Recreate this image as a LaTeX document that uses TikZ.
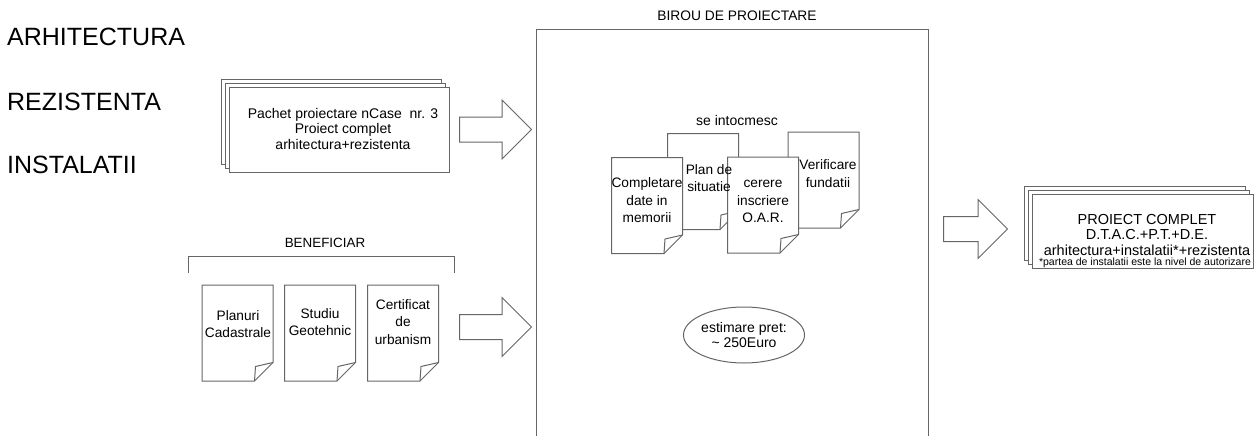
\documentclass[tikz,border=0pt]{standalone}
\usepackage{fontspec}
\setmainfont{Liberation Sans}
\usetikzlibrary{shapes.arrows, shapes.geometric, shadows, positioning}

\begin{document}
\begin{tikzpicture}[x=1pt, y=-1pt,
    line/.style={draw=black!60, line width=1pt},
    txt/.style={align=center, inner sep=0pt, font=\fontsize{14}{15.5}\selectfont},
    doctxt/.style={align=center, inner sep=0pt, font=\fontsize{13.7}{17.5}\selectfont},
    stack/.style={line, fill=white, minimum width=220pt,
        general shadow={shadow xshift=-8pt, shadow yshift=8pt, line, fill=white},
        general shadow={shadow xshift=-4pt, shadow yshift=4pt, line, fill=white}},
    blockarrow/.style={single arrow, line, fill=white, minimum height=72pt, inner xsep=0pt,
        inner ysep=12pt, single arrow head extend=17pt, anchor=tail},
    doc/.style={fill=white, minimum width=72pt, minimum height=97pt, inner sep=0pt,
        path picture={
            \draw[line] ([shift={(.5pt,-.5pt)}]path picture bounding box.north west)
                -- ([shift={(-.5pt,-.5pt)}]path picture bounding box.north east)
                -- ([shift={(-.5pt,19pt)}]path picture bounding box.south east)
                -- ([shift={(-19pt,.5pt)}]path picture bounding box.south east)
                -- ([shift={(.5pt,.5pt)}]path picture bounding box.south west) -- cycle;
            \draw[line] ([shift={(-19pt,.5pt)}]path picture bounding box.south east)
                -- ([shift={(-18pt,15pt)}]path picture bounding box.south east)
                -- ([shift={(-.5pt,19pt)}]path picture bounding box.south east);
        }}]

    \useasboundingbox (0,0) rectangle (1255,436);
    \clip (0,0) rectangle (1255,436);

    % left labels
    \node[anchor=base west, inner sep=0pt, font=\fontsize{25}{30}\selectfont] (L1) at (7,46) {ARHITECTURA};
    \node[anchor=base west, inner sep=0pt, font=\fontsize{25}{30}\selectfont] (L2) at (7,110) {REZISTENTA};
    \node[anchor=base west, inner sep=0pt, font=\fontsize{25}{30}\selectfont] (L3) at (7,173) {INSTALATII};

    % package and beneficiary
    \node[stack, minimum height=85pt, txt] (P) at (339,129.5) {};
    \node[txt] (PT) at (343,128.5) {Pachet proiectare nCase\ \ nr. 3\\Proiect complet\\arhitectura+rezistenta};

    \node[txt, font=\fontsize{13.4}{16}\selectfont] (B) at (325,243) {BENEFICIAR};
    \draw[line] (188,273) |- (454,256) -- (454,273);

    \node[doc] (D1) at (237.5,333) {};
    \node[doc] (D2) at (320,333) {};
    \node[doc] (D3) at (403,333) {};
    \node[doctxt] (T1) at (238,324) {Planuri\\Cadastrale};
    \node[doctxt] (T2) at (320,322) {Studiu\\Geotehnic};
    \node[doctxt] (T3) at (403,322) {Certificat\\de\\urbanism};

    \node[blockarrow] (A1) at (459,129.5) {};
    \node[blockarrow] (A2) at (459,327) {};

    % design office
    \node[line, minimum width=392pt, minimum height=430pt, anchor=north] (O) at (732,29) {};
    \node[txt, font=\fontsize{13.8}{16}\selectfont] (OT) at (737,16) {BIROU DE PROIECTARE};

    \node[txt] (S) at (737,120) {se intocmesc};
    \node[doc] (C1) at (703,181.5) {};
    \node[doc] (C2) at (823.5,180) {};
    \node[doc] (C3) at (647,205.5) {};
    \node[doc] (C4) at (763,205) {};
    \node[doctxt] (U1) at (709,178) {Plan de\\situatie};
    \node[doctxt] (U2) at (828,173.5) {Verificare\\fundatii};
    \node[doctxt] (U3) at (647,200.5) {Completare\\date in\\memorii};
    \node[doctxt] (U4) at (763,201.5) {cerere\\inscriere\\O.A.R.};

    \node[ellipse, line, minimum width=112pt, minimum height=56pt, inner sep=0pt, txt] (E) at (744,335)
        {estimare pret:\\\textasciitilde{} 250Euro};

    % result
    \node[blockarrow, minimum height=64pt] (A3) at (943,229) {};
    \node[stack, minimum width=221pt, minimum height=74pt] (R) at (1142.5,231) {};
    \node[txt, font=\fontsize{14.5}{15.5}\selectfont] (RT) at (1147,235)
        {PROIECT COMPLET\\D.T.A.C.+P.T.+D.E.\\arhitectura+instalatii*+rezistenta};
    \node[txt, font=\fontsize{10.5}{12}\selectfont] (RN) at (1145,263) {*partea de instalatii este la nivel de autorizare};

\end{tikzpicture}
\end{document}
